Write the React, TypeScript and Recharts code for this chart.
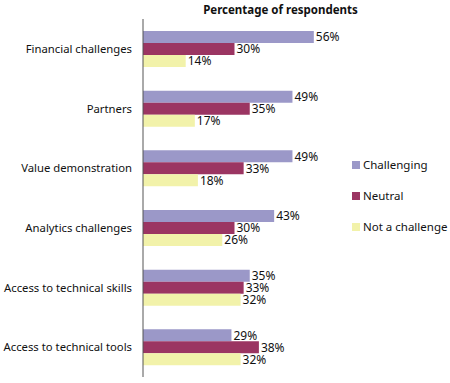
import React from "react";
import { BarChart, Bar, XAxis, YAxis, LabelList } from "recharts";

const categories = [
  "Financial challenges",
  "Partners",
  "Value demonstration",
  "Analytics challenges",
  "Access to technical skills",
  "Access to technical tools",
];
const challenging = [56, 49, 49, 43, 35, 29];
const neutral = [30, 35, 33, 30, 33, 38];
const notAChallenge = [14, 17, 18, 26, 32, 32];

const seriesNames = ["Challenging", "Neutral", "Not a challenge"];
const colors = ["#9b98c8", "#9b3562", "#f2f2aa"];

const data = categories.map((c, i) => ({
  name: c,
  challenging: challenging[i],
  neutral: neutral[i],
  notAChallenge: notAChallenge[i],
}));

const FONT = "'Noto Sans', sans-serif";

const labelFmt = (v: any) => `${v}%`;

const CategoryTick = (props: any) => {
  const { x, y, payload } = props;
  return (
    <text
      x={x - 3}
      y={y}
      dy={4}
      textAnchor="end"
      fontFamily={FONT}
      fontSize={11.3}
      fill="#111"
    >
      {payload.value}
    </text>
  );
};

export default function App() {
  return (
    <div style={{ position: "absolute", left: 0, top: 0, width: 450, height: 383, background: "#fff" }}>
      <div
        style={{
          position: "absolute",
          left: 143,
          width: 275,
          top: 2,
          textAlign: "center",
          fontFamily: FONT,
          fontWeight: "bold",
          fontSize: 11.5,
          color: "#111",
        }}
      >
        Percentage of respondents
      </div>
      <BarChart
        width={450}
        height={383}
        data={data}
        layout="vertical"
        margin={{ top: 19, right: 2, bottom: 6, left: 0 }}
        barGap={0}
        barSize={12}
      >
        <XAxis type="number" domain={[0, 100]} hide />
        <YAxis
          type="category"
          dataKey="name"
          width={143}
          tickLine={false}
          axisLine={{ stroke: "#555" }}
          tick={CategoryTick}
        />
        <Bar dataKey="challenging" name="Challenging" fill={colors[0]} isAnimationActive={false}>
          <LabelList dataKey="challenging" position="right" offset={2} formatter={labelFmt} style={{ fontFamily: FONT, fontSize: 12, fill: "#111" }} />
        </Bar>
        <Bar dataKey="neutral" name="Neutral" fill={colors[1]} isAnimationActive={false}>
          <LabelList dataKey="neutral" position="right" offset={2} formatter={labelFmt} style={{ fontFamily: FONT, fontSize: 12, fill: "#111" }} />
        </Bar>
        <Bar dataKey="notAChallenge" name="Not a challenge" fill={colors[2]} isAnimationActive={false}>
          <LabelList dataKey="notAChallenge" position="right" offset={2} formatter={labelFmt} style={{ fontFamily: FONT, fontSize: 12, fill: "#111" }} />
        </Bar>
      </BarChart>
      <div
        style={{
          position: "absolute",
          left: 352,
          top: 149,
          fontFamily: FONT,
          fontSize: 11.5,
          color: "#111",
        }}
      >
        {seriesNames.map((n, i) => (
          <div key={n} style={{ display: "flex", alignItems: "center", height: 31, whiteSpace: "nowrap" }}>
            <span
              style={{
                display: "inline-block",
                width: 8,
                height: 8,
                background: colors[i],
                marginRight: 3,
              }}
            />
            {n}
          </div>
        ))}
      </div>
    </div>
  );
}
